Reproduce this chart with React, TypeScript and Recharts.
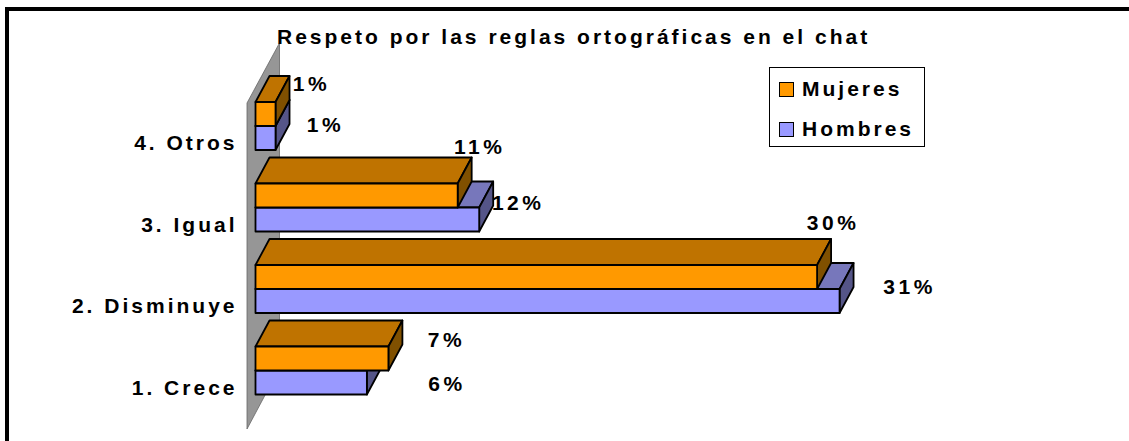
import React from 'react';
import { BarChart, Bar, XAxis, YAxis, LabelList, Legend } from 'recharts';

const categories = ['4. Otros', '3. Igual', '2. Disminuye', '1. Crece'];
// labels in the picture are rounded, bar lengths are a bit finer
const mujeres = [1.07, 10.8, 30, 7.1];
const hombres = [1.07, 11.95, 31.2, 5.95];

const chartData = categories.map((name, i) => ({ name, Mujeres: mujeres[i], Hombres: hombres[i] }));

const FONT = 'Liberation Sans, Arial, sans-serif';
const DX = 14; // depth of the fake 3D bars
const DY = 26;

// the labels sit in odd hand-placed spots in the original, so nudge them per category
const mujeresNudge = [[36, -31], [22, -49], [16, -55], [58, -19]];
const hombresNudge = [[50, -14], [39, -17], [70, -15], [80, 1]];

const Bar3D = (props: any) => {
  const { x, y, width, height, fill, top, side } = props;
  return (
    <g stroke="#000" strokeWidth={1.8} strokeLinejoin="round">
      <polygon points={`${x},${y} ${x + DX},${y - DY} ${x + width + DX},${y - DY} ${x + width},${y}`} fill={top} />
      <polygon points={`${x + width},${y} ${x + width + DX},${y - DY} ${x + width + DX},${y + height - DY} ${x + width},${y + height}`} fill={side} />
      <rect x={x} y={y} width={width} height={height} fill={fill} />
    </g>
  );
};

const makeLabel = (nudge: number[][]) => (props: any) => {
  const { x, y, width, height, value, index } = props;
  return (
    <text
      x={x + width + nudge[index][0]}
      y={y + height / 2 + nudge[index][1]}
      dy="0.36em"
      fontFamily={FONT}
      fontSize={21}
      fontWeight="bold"
      letterSpacing={3.5}
      textAnchor="middle"
      fill="#000"
    >
      {Math.round(value)}%
    </text>
  );
};

const CategoryTick = (props: any) => {
  const { x, y, payload } = props;
  return (
    <text x={x - 10} y={y + 17} dy="0.36em" fontFamily={FONT} fontSize={21} fontWeight="bold" letterSpacing={3} textAnchor="end" fill="#000">
      {payload.value}
    </text>
  );
};

const legendItems = [
  { name: 'Mujeres', color: '#ff9900' },
  { name: 'Hombres', color: '#9999ff' },
];

const LegendBox = () => (
  <div style={{ width: 156, height: 80, boxSizing: 'border-box', border: '1px solid #000', background: '#fff', position: 'relative' }}>
    {legendItems.map((item, i) => (
      <div key={item.name} style={{ position: 'absolute', left: 9, top: 13 + i * 40, display: 'flex', alignItems: 'center', height: 16 }}>
        <span style={{ width: 15, height: 15, boxSizing: 'border-box', border: '1.5px solid #000', background: item.color, marginRight: 8 }} />
        <span style={{ fontFamily: FONT, fontSize: 21, fontWeight: 'bold', letterSpacing: 3, color: '#000' }}>{item.name}</span>
      </div>
    ))}
  </div>
);

const App = () => (
  <div style={{ position: 'absolute', left: 0, top: 0, width: 1129, height: 441, background: '#fff', overflow: 'hidden' }}>
    <div style={{ position: 'absolute', left: 5, top: 7, width: 1124, height: 4, background: '#000' }} />
    <div style={{ position: 'absolute', left: 5, top: 7, width: 4, height: 434, background: '#000' }} />
    <svg width={1129} height={441} style={{ position: 'absolute', left: 0, top: 0 }}>
      <polygon points="247,103 279.5,43 279.5,368 247,429" fill="#969696" stroke="#666" strokeWidth={0.8} />
    </svg>
    <div style={{ position: 'absolute', left: 0, top: 0 }}>
      <BarChart
        width={1129}
        height={441}
        data={chartData}
        layout="vertical"
        barGap={0}
        barSize={24}
        margin={{ top: 85, right: 218.3, bottom: 30, left: 15.5 }}
      >
        <XAxis type="number" domain={[0, 35]} hide />
        <YAxis type="category" dataKey="name" width={240} axisLine={false} tickLine={false} tick={<CategoryTick />} interval={0} />
        <Legend content={<LegendBox />} layout="horizontal" verticalAlign="middle" wrapperStyle={{ position: 'absolute', left: 769, top: 67, width: 156, height: 80 }} />
        <Bar dataKey="Mujeres" zIndex={320} isAnimationActive={false} fill="#ff9900" shape={(p: any) => <Bar3D {...p} top="#bf7300" side="#805000" />}>
          <LabelList dataKey="Mujeres" content={makeLabel(mujeresNudge)} />
        </Bar>
        <Bar dataKey="Hombres" zIndex={310} isAnimationActive={false} fill="#9999ff" shape={(p: any) => <Bar3D {...p} top="#7777bb" side="#555588" />}>
          <LabelList dataKey="Hombres" content={makeLabel(hombresNudge)} />
        </Bar>
        <text x={277} y={44} fontFamily={FONT} fontSize={21} fontWeight="bold" letterSpacing={3} fill="#000">
          Respeto por las reglas ortográficas en el chat
        </text>
      </BarChart>
    </div>
  </div>
);

export default App;
